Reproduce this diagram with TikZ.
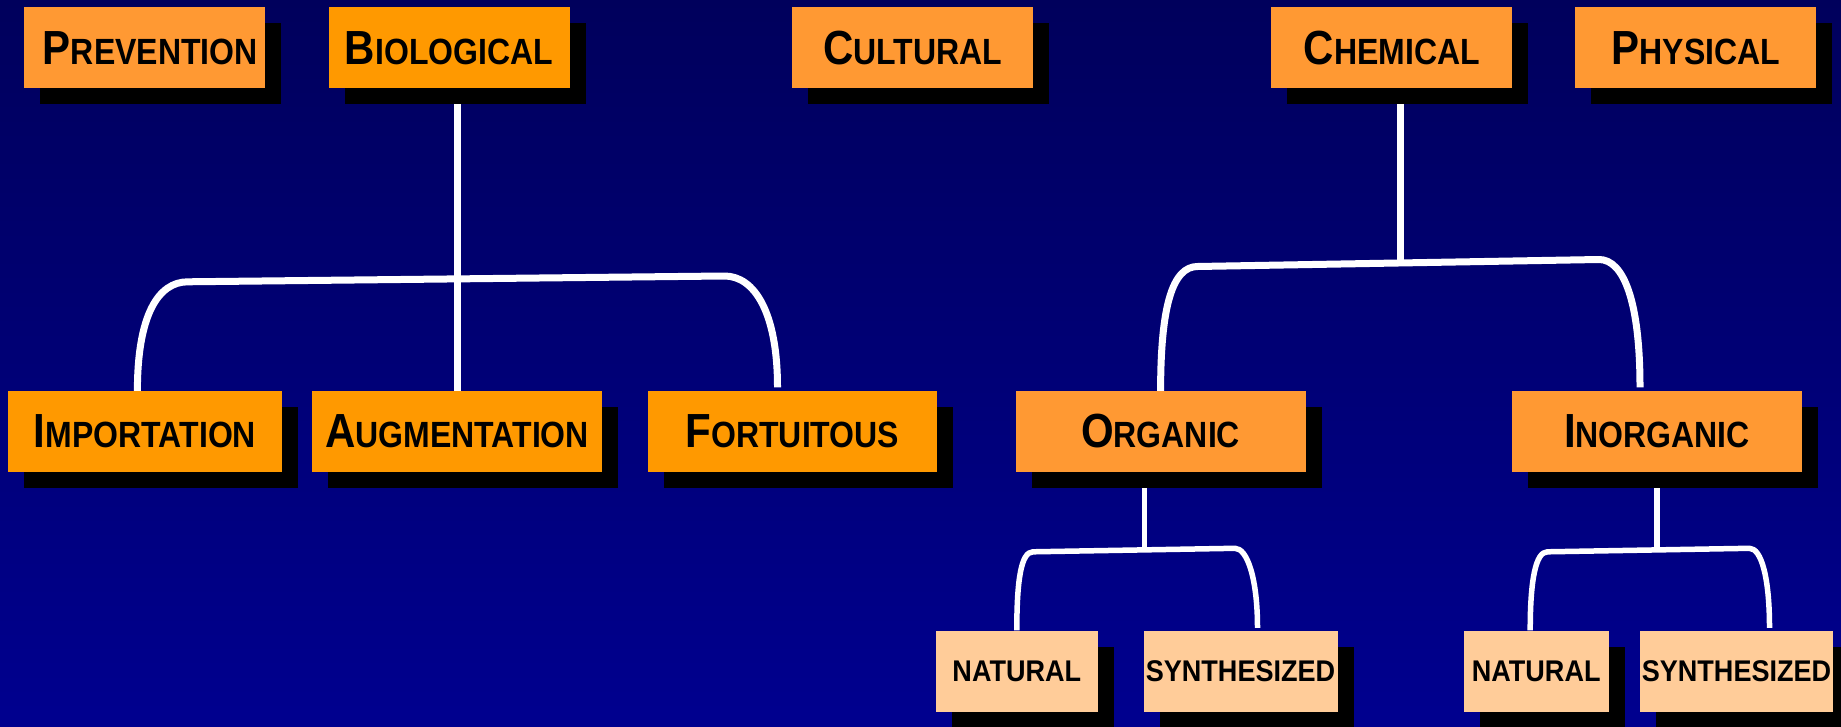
\documentclass[tikz,border=0pt]{standalone}
\usepackage{fontspec}
\usepackage{graphicx}
\setmainfont{Liberation Sans}
\usetikzlibrary{shadows,calc}
\pgfdeclarelayer{back}
\pgfdeclarelayer{lines}
\pgfsetlayers{back,lines,main}
\definecolor{bgtop}{RGB}{0,0,92}
\definecolor{bgbot}{RGB}{0,0,143}
\definecolor{orlight}{RGB}{255,153,51}
\definecolor{orbright}{RGB}{255,153,0}
\definecolor{peach}{RGB}{255,204,153}
\newcommand{\capsA}[2]{\scalebox{1.0}[1.14]{{\fontsize{42}{42}\selectfont #1}{\fontsize{32}{32}\selectfont #2}}}
\newcommand{\capsB}[1]{\scalebox{1.04}[1.15]{\fontsize{26}{26}\selectfont #1}}
\begin{document}
\begin{tikzpicture}[x=1pt,y=-1pt,
  box/.style={inner sep=0pt, minimum height=81pt, font=\bfseries, text=black,
    drop shadow={shadow xshift=16pt,shadow yshift=-16pt,fill=black,opacity=1}},
  topbox/.style={box, minimum width=241pt},
  conn/.style={draw=white, line width=7pt, line join=round},
  connsmall/.style={draw=white, line width=5.5pt, line join=round}]
\useasboundingbox (0,0) rectangle (1841,727);
\begin{pgfonlayer}{back}
\shade[top color=bgtop,bottom color=bgbot] (0,0) rectangle (1841,727);
\end{pgfonlayer}

% top row
\node[topbox, fill=orlight] (prev) at (144.3,48) {\hspace*{12pt}\capsA{P}{REVENTION}};
\node[topbox, fill=orbright] (bio) at (449,48) {\capsA{B}{IOLOGICAL}};
\node[topbox, fill=orlight] (cult) at (912.8,48) {\capsA{C}{ULTURAL}};
\node[topbox, fill=orlight] (chem) at (1391.8,48) {\capsA{C}{HEMICAL}};
\node[topbox, fill=orlight] (phys) at (1695.8,48) {\capsA{P}{HYSICAL}};

% middle row
\node[box, fill=orbright, minimum width=274pt] (imp) at (145,431.5) {\capsA{I}{MPORTATION}};
\node[box, fill=orbright, minimum width=290pt] (aug) at (457,431.5) {\capsA{A}{UGMENTATION}};
\node[box, fill=orbright, minimum width=289pt] (fort) at (792.5,431.5) {\capsA{F}{ORTUITOUS}};
\node[box, fill=orlight, minimum width=290pt] (org) at (1160.6,431.5) {\capsA{O}{RGANIC}};
\node[box, fill=orlight, minimum width=290pt] (inorg) at (1657,431.5) {\capsA{I}{NORGANIC}};

% bottom row
\node[box, fill=peach, minimum width=162pt] (nat1) at (1016.8,671) {\capsB{NATURAL}};
\node[box, fill=peach, minimum width=194pt] (syn1) at (1240.5,671) {\capsB{SYNTHESIZED}};
\node[box, fill=peach, minimum width=145pt] (nat2) at (1536.2,671) {\capsB{NATURAL}};
\node[box, fill=peach, minimum width=193pt] (syn2) at (1736.5,671) {\capsB{SYNTHESIZED}};

\begin{pgfonlayer}{lines}
% biological
\draw[conn] (bio.south -| aug.north) -- (aug.north);
\draw[conn] ([xshift=-7.6pt]imp.north) .. controls +(0,-75) and +(-30,0) .. (187.9,281.8)
  -- (724.4,276) .. controls +(30,0) and +(0,-75) .. ([xshift=-15pt,yshift=3.5pt]fort.north);
% chemical
\draw[conn] ([xshift=9pt]chem.south) -- ++(0,175);
\draw[conn] (org.north) .. controls +(0,-85) and +(-25,0) .. (1197.6,266.5)
  -- (1599,259.5) .. controls +(25,0) and +(0,-85) .. ([xshift=-17pt,yshift=3.5pt]inorg.north);
% organic
\draw[connsmall] ([xshift=-16pt]org.south) -- ++(0,78);
\draw[connsmall] (nat1.north) .. controls +(0,-50) and +(-12,0) .. (1033,551.8)
  -- (1235,548.3) .. controls +(12,0) and +(0,-50) .. ([xshift=17pt,yshift=2.5pt]syn1.north);
% inorganic
\draw[connsmall] (inorg.south) -- ++(0,78);
\draw[connsmall] ([xshift=-6pt]nat2.north) .. controls +(0,-50) and +(-12,0) .. (1547.5,551.8)
  -- (1749.4,548.3) .. controls +(12,0) and +(0,-50) .. ([xshift=33pt,yshift=2.5pt]syn2.north);
\end{pgfonlayer}
\end{tikzpicture}
\end{document}
